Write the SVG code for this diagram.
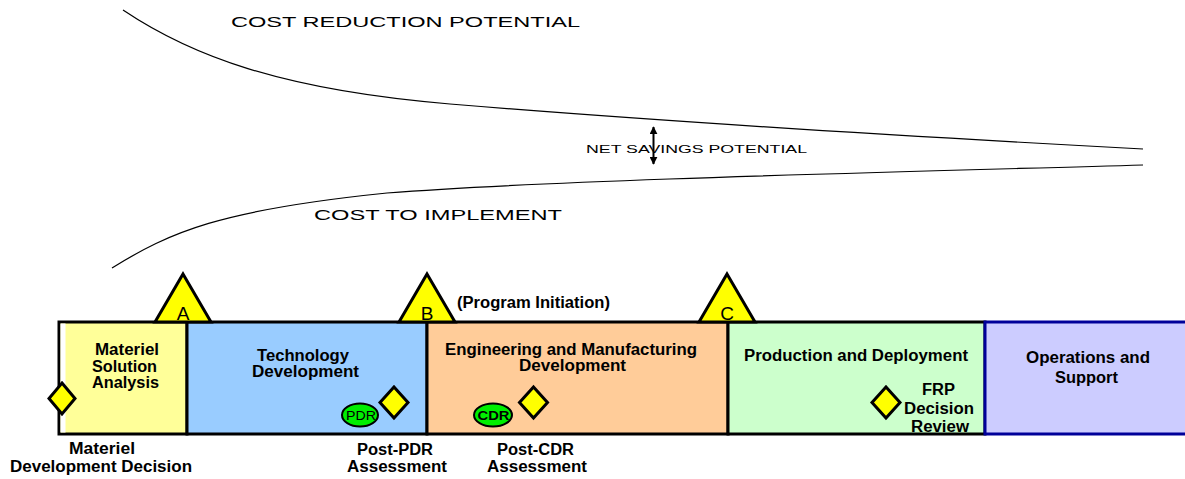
<svg xmlns="http://www.w3.org/2000/svg" width="1185" height="479" viewBox="0 0 1185 479">
<style>
text{font-family:"Liberation Sans",Arial,sans-serif;fill:#000}
.lbl{font-size:16px;font-weight:bold;text-anchor:middle}
.cur{font-size:15px;text-anchor:start}
.box{stroke:#000;stroke-width:3}
.tri{fill:#ffff00;stroke:#000;stroke-width:3;stroke-linejoin:miter}
.dia{fill:#ffff00;stroke:#000;stroke-width:3}
.ell{fill:#00ee00;stroke:#000;stroke-width:2}
.let{font-size:19px;text-anchor:middle}
.curve{fill:none;stroke:#000;stroke-width:1.2}
</style>
<defs>
<marker id="ah" viewBox="0 0 10 10" refX="9" refY="5" markerWidth="4" markerHeight="4" orient="auto-start-reverse">
<path d="M0,0 L10,5 L0,10 z" fill="#000"/>
</marker>
</defs>
<g id="connectors">
<path class="curve" d="M123,10 C190,55 280,90 450,104 C620,118 900,136 1143,149"/>
<path class="curve" d="M112,268 C170,232 220,210 387,193 C550,180 900,172 1143,165"/>
<line x1="653.5" y1="127" x2="653.5" y2="164" stroke="#000" stroke-width="2" marker-start="url(#ah)" marker-end="url(#ah)"/>
</g>
<g id="curve-labels">
<text class="cur" x="231" y="27" textLength="349" lengthAdjust="spacingAndGlyphs">COST REDUCTION POTENTIAL</text>
<text class="cur" x="586" y="153" style="font-size:11px" textLength="221" lengthAdjust="spacingAndGlyphs">NET SAVINGS POTENTIAL</text>
<text class="cur" x="314" y="220" textLength="248" lengthAdjust="spacingAndGlyphs">COST TO IMPLEMENT</text>
</g>
<g id="phase-msa">
<rect class="box" x="59" y="322" width="128" height="112" fill="#ffff99"/>
<rect x="60.5" y="323.5" width="5" height="109" fill="#fff"/>
<text class="lbl" x="127" y="355" textLength="64" lengthAdjust="spacingAndGlyphs">Materiel</text>
<text class="lbl" x="124.5" y="372" textLength="65" lengthAdjust="spacingAndGlyphs">Solution</text>
<text class="lbl" x="125.5" y="388" textLength="67" lengthAdjust="spacingAndGlyphs">Analysis</text>
</g>
<g id="phase-td">
<rect class="box" x="187" y="322" width="240" height="112" fill="#99ccff"/>
<text class="lbl" x="303" y="361" textLength="92" lengthAdjust="spacingAndGlyphs">Technology</text>
<text class="lbl" x="305.5" y="377" textLength="107" lengthAdjust="spacingAndGlyphs">Development</text>
</g>
<g id="phase-emd">
<rect class="box" x="427" y="322" width="301" height="112" fill="#ffcc99"/>
<text class="lbl" x="571" y="355" textLength="252" lengthAdjust="spacingAndGlyphs">Engineering and Manufacturing</text>
<text class="lbl" x="572.5" y="371" textLength="107" lengthAdjust="spacingAndGlyphs">Development</text>
</g>
<g id="phase-pd">
<rect class="box" x="728" y="322" width="257" height="112" fill="#ccffcc"/>
<text class="lbl" x="856" y="361" textLength="224" lengthAdjust="spacingAndGlyphs">Production and Deployment</text>
</g>
<g id="phase-os">
<rect x="985" y="322" width="215" height="112" fill="#ccccff" stroke="#000099" stroke-width="3"/>
<text class="lbl" x="1088" y="363" textLength="124" lengthAdjust="spacingAndGlyphs">Operations and</text>
<text class="lbl" x="1086.5" y="383" textLength="63" lengthAdjust="spacingAndGlyphs">Support</text>
</g>
<g id="milestone-a">
<polygon class="tri" points="183,274 211,322 155,322"/>
<text class="let" x="183" y="320">A</text>
</g>
<g id="milestone-b">
<polygon class="tri" points="427,274 455,322 399,322"/>
<text class="let" x="427" y="320">B</text>
<text class="lbl" x="457" y="308" style="text-anchor:start" textLength="153" lengthAdjust="spacingAndGlyphs">(Program Initiation)</text>
</g>
<g id="milestone-c">
<polygon class="tri" points="727,274 755,322 699,322"/>
<text class="let" x="727" y="320">C</text>
</g>
<g id="mdd">
<polygon class="dia" points="62,383 75,398.5 62,414 49,398.5"/>
<text class="lbl" x="102" y="454" textLength="66" lengthAdjust="spacingAndGlyphs">Materiel</text>
<text class="lbl" x="101" y="472" textLength="182" lengthAdjust="spacingAndGlyphs">Development Decision</text>
</g>
<g id="pdr">
<ellipse class="ell" cx="360" cy="415" rx="18" ry="11.5"/>
<text x="361" y="420" style="font-size:13px;text-anchor:middle" textLength="30" lengthAdjust="spacingAndGlyphs">PDR</text>
</g>
<g id="post-pdr">
<polygon class="dia" points="394,387 408,402.5 394,418 380,402.5"/>
<text class="lbl" x="395" y="455" textLength="76" lengthAdjust="spacingAndGlyphs">Post-PDR</text>
<text class="lbl" x="397" y="472" textLength="100" lengthAdjust="spacingAndGlyphs">Assessment</text>
</g>
<g id="cdr">
<ellipse class="ell" cx="493" cy="415" rx="19" ry="11.5"/>
<text x="493.5" y="420" style="font-size:13px;font-weight:bold;text-anchor:middle" textLength="32" lengthAdjust="spacingAndGlyphs">CDR</text>
</g>
<g id="post-cdr">
<polygon class="dia" points="533.5,387 547.5,402.5 533.5,418 519.5,402.5"/>
<text class="lbl" x="535.5" y="455" textLength="77" lengthAdjust="spacingAndGlyphs">Post-CDR</text>
<text class="lbl" x="537" y="472" textLength="100" lengthAdjust="spacingAndGlyphs">Assessment</text>
</g>
<g id="frp">
<polygon class="dia" points="886,387 900,402.5 886,418 872,402.5"/>
<text class="lbl" x="938.5" y="395" textLength="33" lengthAdjust="spacingAndGlyphs">FRP</text>
<text class="lbl" x="939" y="414" textLength="70" lengthAdjust="spacingAndGlyphs">Decision</text>
<text class="lbl" x="940" y="432" textLength="58" lengthAdjust="spacingAndGlyphs">Review</text>
</g>
</svg>
